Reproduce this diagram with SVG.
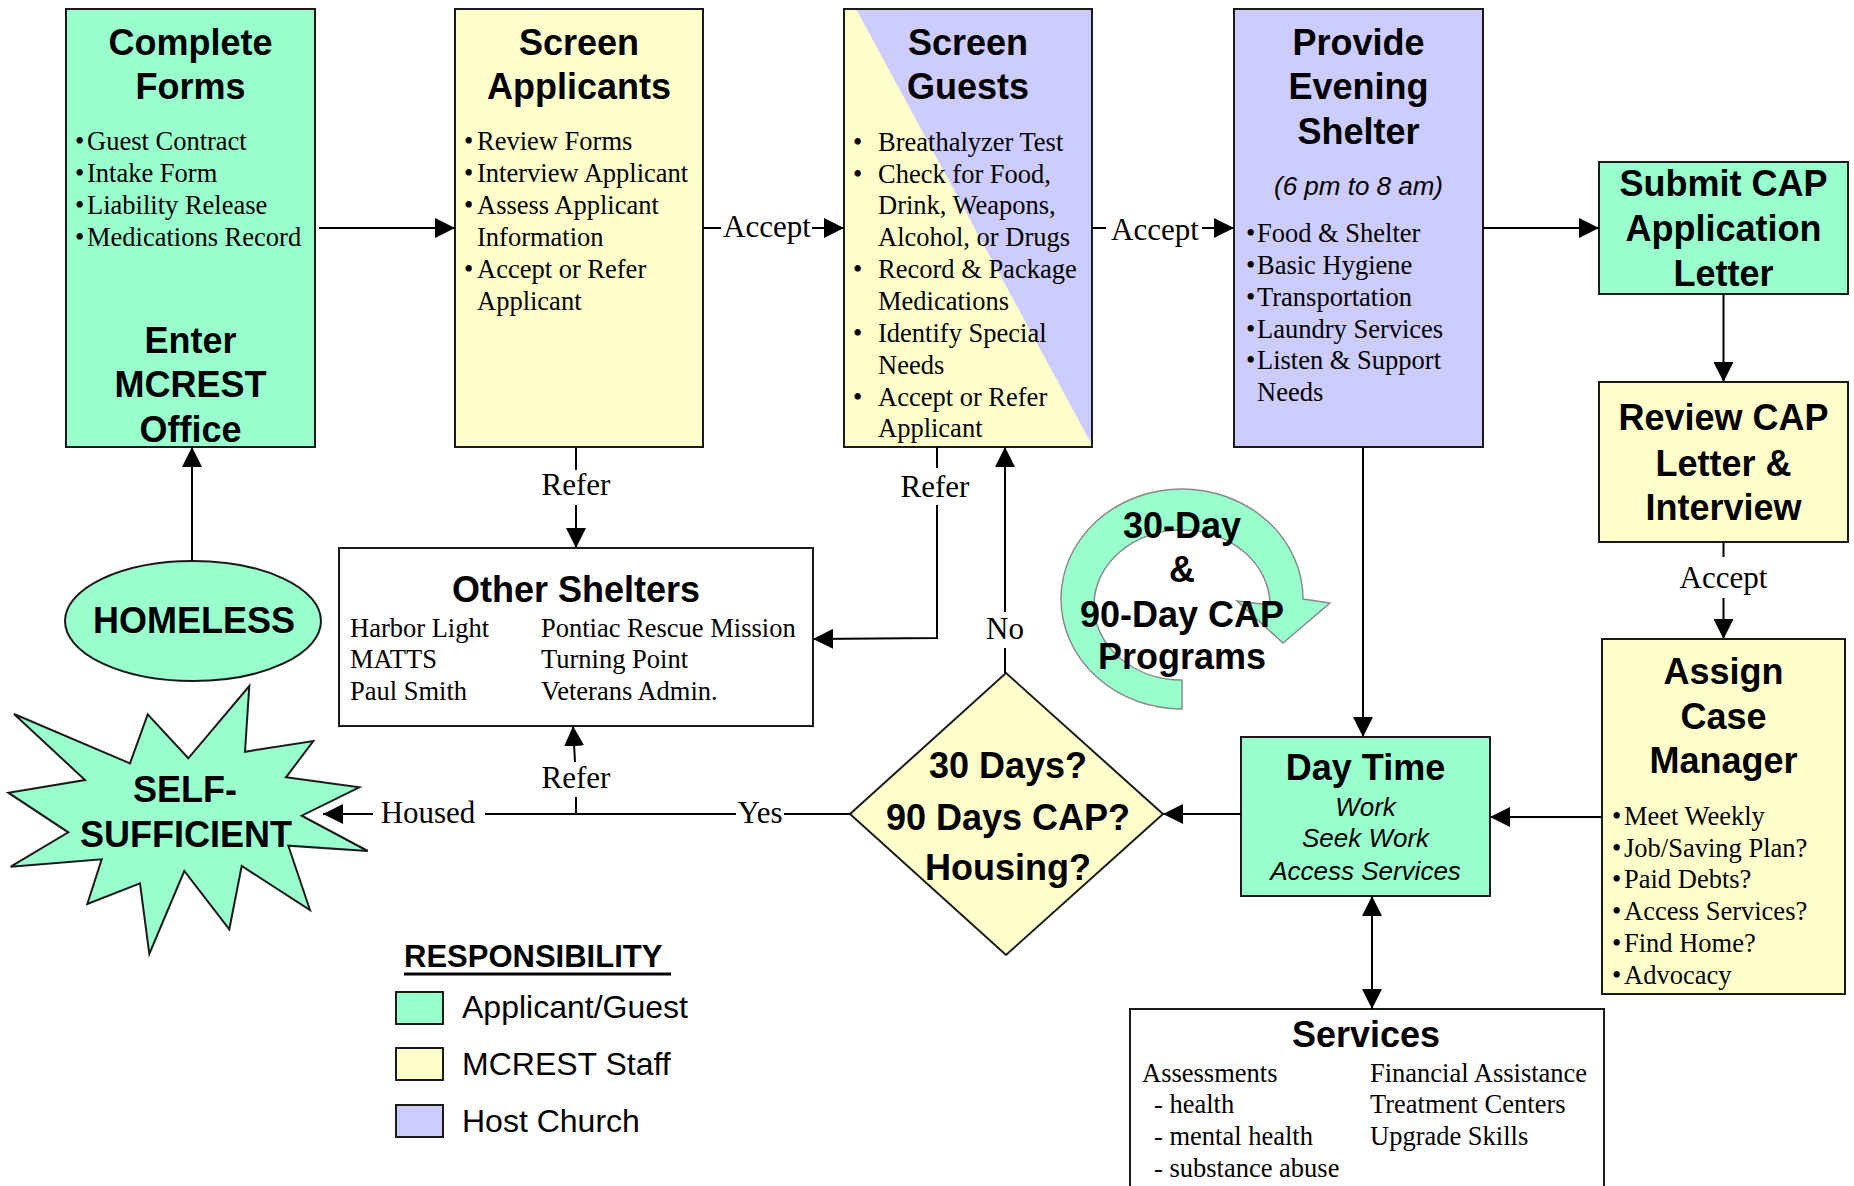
<svg xmlns="http://www.w3.org/2000/svg" width="1854" height="1186" viewBox="0 0 1854 1186">
<style>
.box{stroke:#1a1a1a;stroke-width:2}
.g{fill:#99FFCC}
.y{fill:#FFFFCC}
.p{fill:#CCCCFF}
.w{fill:#FFFFFF}
.t{font-family:"Liberation Sans",Arial,sans-serif;font-weight:bold;font-size:36px;text-anchor:middle;fill:#000}
.b{font-family:"Liberation Serif","Times New Roman",serif;font-size:26.5px;fill:#000}
.l{font-family:"Liberation Serif","Times New Roman",serif;font-size:31px;fill:#000;text-anchor:middle}
.i{font-family:"Liberation Sans",Arial,sans-serif;font-style:italic;font-size:26px;text-anchor:middle;fill:#000}
.c{fill:none;stroke:#000;stroke-width:2}
.a{marker-end:url(#ah)}
.lg{font-family:"Liberation Sans",Arial,sans-serif;font-size:32px;fill:#000}
</style>
<defs>
<marker id="ah" markerUnits="userSpaceOnUse" markerWidth="20" markerHeight="20" viewBox="0 0 20 20" refX="20" refY="10" orient="auto-start-reverse"><path d="M0,0 L20,10 L0,20 Z" fill="#000"/></marker>
</defs>
<rect x="0" y="0" width="1854" height="1186" fill="#FFFFFF"/>

<g id="complete-forms">
<rect class="box g" x="66" y="9" width="249" height="438"/>
<text class="t" x="190.5" y="55">Complete</text>
<text class="t" x="190.5" y="99">Forms</text>
<text class="b" y="150"><tspan x="75">•</tspan><tspan x="87">Guest Contract</tspan></text>
<text class="b" y="182"><tspan x="75">•</tspan><tspan x="87">Intake Form</tspan></text>
<text class="b" y="214"><tspan x="75">•</tspan><tspan x="87">Liability Release</tspan></text>
<text class="b" y="246"><tspan x="75">•</tspan><tspan x="87">Medications Record</tspan></text>
<text class="t" x="190.5" y="353">Enter</text>
<text class="t" x="190.5" y="397">MCREST</text>
<text class="t" x="190.5" y="442">Office</text>
</g>

<g id="screen-applicants">
<rect class="box y" x="455" y="9" width="248" height="438"/>
<text class="t" x="579" y="55">Screen</text>
<text class="t" x="579" y="99">Applicants</text>
<text class="b" y="150"><tspan x="464">•</tspan><tspan x="477">Review Forms</tspan></text>
<text class="b" y="182"><tspan x="464">•</tspan><tspan x="477">Interview Applicant</tspan></text>
<text class="b" y="214"><tspan x="464">•</tspan><tspan x="477">Assess Applicant</tspan></text>
<text class="b" x="477" y="246">Information</text>
<text class="b" y="278"><tspan x="464">•</tspan><tspan x="477">Accept or Refer</tspan></text>
<text class="b" x="477" y="310">Applicant</text>
</g>

<g id="screen-guests">
<rect class="y" x="844" y="9" width="248" height="438"/>
<polygon class="p" points="856,9 1092,9 1092,445"/>
<rect x="844" y="9" width="248" height="438" fill="none" class="box"/>
<text class="t" x="968" y="55">Screen</text>
<text class="t" x="968" y="99">Guests</text>
<text class="b" y="151"><tspan x="853">•</tspan><tspan x="878">Breathalyzer Test</tspan></text>
<text class="b" y="183"><tspan x="853">•</tspan><tspan x="878">Check for Food,</tspan></text>
<text class="b" x="878" y="214">Drink, Weapons,</text>
<text class="b" x="878" y="246">Alcohol, or Drugs</text>
<text class="b" y="278"><tspan x="853">•</tspan><tspan x="878">Record &amp; Package</tspan></text>
<text class="b" x="878" y="310">Medications</text>
<text class="b" y="342"><tspan x="853">•</tspan><tspan x="878">Identify Special</tspan></text>
<text class="b" x="878" y="374">Needs</text>
<text class="b" y="406"><tspan x="853">•</tspan><tspan x="878">Accept or Refer</tspan></text>
<text class="b" x="878" y="437">Applicant</text>
</g>

<g id="provide-evening-shelter">
<rect class="box p" x="1234" y="9" width="249" height="438"/>
<text class="t" x="1358.5" y="55">Provide</text>
<text class="t" x="1358.5" y="99">Evening</text>
<text class="t" x="1358.5" y="144">Shelter</text>
<text class="i" x="1358.5" y="195">(6 pm to 8 am)</text>
<text class="b" y="242"><tspan x="1246">•</tspan><tspan x="1257">Food &amp; Shelter</tspan></text>
<text class="b" y="274"><tspan x="1246">•</tspan><tspan x="1257">Basic Hygiene</tspan></text>
<text class="b" y="306"><tspan x="1246">•</tspan><tspan x="1257">Transportation</tspan></text>
<text class="b" y="338"><tspan x="1246">•</tspan><tspan x="1257">Laundry Services</tspan></text>
<text class="b" y="369"><tspan x="1246">•</tspan><tspan x="1257">Listen &amp; Support</tspan></text>
<text class="b" x="1257" y="401">Needs</text>
</g>

<g id="submit-cap">
<rect class="box g" x="1599" y="162" width="249" height="132"/>
<text class="t" x="1723.5" y="196">Submit CAP</text>
<text class="t" x="1723.5" y="241">Application</text>
<text class="t" x="1723.5" y="286">Letter</text>
</g>

<g id="review-cap">
<rect class="box y" x="1599" y="382" width="249" height="160"/>
<text class="t" x="1723.5" y="430">Review CAP</text>
<text class="t" x="1723.5" y="476">Letter &amp;</text>
<text class="t" x="1723.5" y="520">Interview</text>
</g>

<g id="assign-case-manager">
<rect class="box y" x="1602" y="639" width="243" height="355"/>
<text class="t" x="1723.5" y="684">Assign</text>
<text class="t" x="1723.5" y="729">Case</text>
<text class="t" x="1723.5" y="773">Manager</text>
<text class="b" y="825"><tspan x="1612">•</tspan><tspan x="1624">Meet Weekly</tspan></text>
<text class="b" y="857"><tspan x="1612">•</tspan><tspan x="1624">Job/Saving Plan?</tspan></text>
<text class="b" y="888"><tspan x="1612">•</tspan><tspan x="1624">Paid Debts?</tspan></text>
<text class="b" y="920"><tspan x="1612">•</tspan><tspan x="1624">Access Services?</tspan></text>
<text class="b" y="952"><tspan x="1612">•</tspan><tspan x="1624">Find Home?</tspan></text>
<text class="b" y="984"><tspan x="1612">•</tspan><tspan x="1624">Advocacy</tspan></text>
</g>

<g id="day-time">
<rect class="box g" x="1241" y="737" width="249" height="159"/>
<text class="t" x="1365.5" y="780">Day Time</text>
<text class="i" x="1365.5" y="816">Work</text>
<text class="i" x="1365.5" y="847">Seek Work</text>
<text class="i" x="1365.5" y="880">Access Services</text>
</g>

<g id="decision">
<polygon class="box y" points="1006,673 1163,814 1006,955 850,814"/>
<text class="t" x="1008" y="778">30 Days?</text>
<text class="t" x="1008" y="830">90 Days CAP?</text>
<text class="t" x="1008" y="880">Housing?</text>
</g>

<g id="cap-programs">
<path d="M1182,709 A121,110 0 1 1 1303,599 L1330,603 L1283,643 L1237,601 L1270,605 A88,75 0 1 0 1182,680 Z" fill="#99FFCC" stroke="#8a8a8a" stroke-width="1.5"/>
<text class="t" x="1182" y="538">30-Day</text>
<text class="t" x="1182" y="582">&amp;</text>
<text class="t" x="1182" y="627">90-Day CAP</text>
<text class="t" x="1182" y="669">Programs</text>
</g>

<g id="other-shelters">
<rect class="box w" x="339" y="548" width="474" height="178"/>
<text class="t" x="576" y="602">Other Shelters</text>
<text class="b" x="350" y="637">Harbor Light</text>
<text class="b" x="350" y="668">MATTS</text>
<text class="b" x="350" y="700">Paul Smith</text>
<text class="b" x="541" y="637">Pontiac Rescue Mission</text>
<text class="b" x="541" y="668">Turning Point</text>
<text class="b" x="541" y="700">Veterans Admin.</text>
</g>

<g id="homeless">
<ellipse class="box g" cx="193" cy="621" rx="128" ry="60"/>
<text class="t" x="194" y="633">HOMELESS</text>
</g>

<g id="self-sufficient">
<polygon class="box g" points="249.3,686 245,751.7 313.3,741 286,777.3 359.3,787.3 301.7,815.7 367.7,851 288.3,845.7 310,910 241.7,866 229.3,929.3 184.3,871 149.3,954 140,883.3 87.3,904 101.7,859.3 10.7,866.7 68.3,832.3 8.3,792.7 85,780 14,714 130,763.3 147.7,714.3 188.3,758.3"/>
<text class="t" x="185" y="802">SELF-</text>
<text class="t" x="186" y="847">SUFFICIENT</text>
</g>

<g id="services">
<rect class="box w" x="1130" y="1009" width="474" height="200"/>
<text class="t" x="1366" y="1047">Services</text>
<text class="b" x="1142" y="1082">Assessments</text>
<text class="b" x="1154" y="1113">- health</text>
<text class="b" x="1154" y="1145">- mental health</text>
<text class="b" x="1154" y="1177">- substance abuse</text>
<text class="b" x="1370" y="1082">Financial Assistance</text>
<text class="b" x="1370" y="1113">Treatment Centers</text>
<text class="b" x="1370" y="1145">Upgrade Skills</text>
</g>

<g id="legend">
<text x="404" y="967" font-family="Liberation Sans, Arial, sans-serif" font-weight="bold" font-size="31">RESPONSIBILITY</text>
<line x1="404" y1="974" x2="671" y2="974" stroke="#000" stroke-width="3"/>
<rect class="box g" x="396" y="992" width="47" height="32"/>
<rect class="box y" x="396" y="1048" width="47" height="32"/>
<rect class="box p" x="396" y="1105" width="47" height="32"/>
<text class="lg" x="462" y="1018">Applicant/Guest</text>
<text class="lg" x="462" y="1075">MCREST Staff</text>
<text class="lg" x="462" y="1132">Host Church</text>
</g>

<g id="connectors">
<line class="c a" x1="319" y1="228" x2="455" y2="228"/>
<line class="c" x1="703" y1="228" x2="721" y2="228"/>
<text class="l" x="767" y="237">Accept</text>
<line class="c a" x1="812" y1="228" x2="844" y2="228"/>
<line class="c" x1="1092" y1="228" x2="1106" y2="228"/>
<text class="l" x="1155" y="240">Accept</text>
<line class="c a" x1="1202" y1="228" x2="1234" y2="228"/>
<line class="c a" x1="1483" y1="228" x2="1599" y2="228"/>
<line class="c a" x1="1723.5" y1="294" x2="1723.5" y2="382"/>
<line class="c" x1="1723.5" y1="542" x2="1723.5" y2="557"/>
<text class="l" x="1723.5" y="588">Accept</text>
<line class="c a" x1="1723.5" y1="598" x2="1723.5" y2="639"/>
<line class="c a" x1="1602" y1="817" x2="1490" y2="817"/>
<line class="c a" x1="1363" y1="447" x2="1363" y2="737"/>
<line class="c a" x1="1241" y1="814" x2="1163" y2="814"/>
<line class="c a" x1="1372" y1="896" x2="1372" y2="1009" marker-start="url(#ah)"/>
<line class="c" x1="1005" y1="673" x2="1005" y2="648"/>
<text class="l" x="1005" y="639">No</text>
<line class="c a" x1="1005" y1="612" x2="1005" y2="447"/>
<line class="c" x1="937" y1="447" x2="937" y2="468"/>
<text class="l" x="935" y="497">Refer</text>
<polyline class="c a" points="937,505 937,638 813,639"/>
<line class="c" x1="576" y1="447" x2="576" y2="470"/>
<text class="l" x="576" y="495">Refer</text>
<line class="c a" x1="576" y1="505" x2="576" y2="548"/>
<line class="c" x1="850" y1="814" x2="784" y2="814"/>
<text class="l" x="760" y="823">Yes</text>
<line class="c" x1="736" y1="814" x2="485" y2="814"/>
<text class="l" x="428" y="823">Housed</text>
<line class="c a" x1="373" y1="814" x2="323" y2="814"/>
<line class="c" x1="576" y1="814" x2="576" y2="797"/>
<text class="l" x="576" y="788">Refer</text>
<line class="c a" x1="575" y1="762" x2="573" y2="726"/>
<line class="c a" x1="192" y1="561" x2="192" y2="447"/>
</g>
</svg>
